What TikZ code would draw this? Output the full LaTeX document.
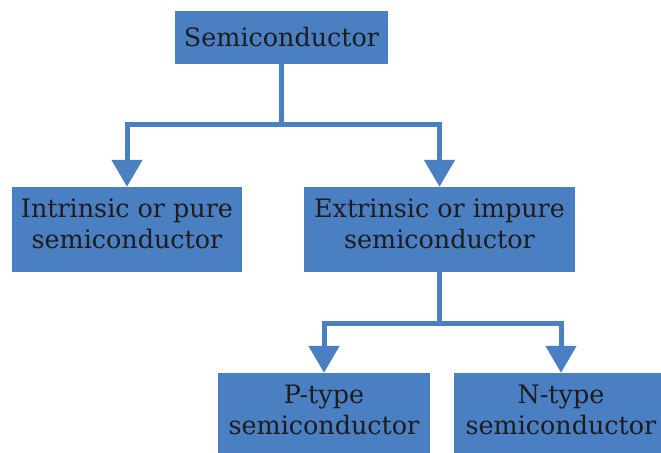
\documentclass[tikz,border=0pt]{standalone}
\usepackage{fontspec}
\setmainfont{DejaVu Serif}
\usetikzlibrary{arrows.meta}
\definecolor{boxblue}{RGB}{74,127,193}
\definecolor{txt}{RGB}{30,28,30}
\newcommand\mydstrut{\rule[-12bp]{0pt}{0pt}}
\tikzset{
  cbox/.style={fill=boxblue, draw=none, text=txt, align=center, inner sep=0pt,
    font=\fontsize{25.5}{31}\selectfont, minimum height=85bp},
  link/.style={draw=boxblue, line width=5bp},
  arr/.style={link, -{Triangle[width=30bp,length=27bp]}}
}
\begin{document}
\begin{tikzpicture}[x=1bp,y=-1bp]
\useasboundingbox (0,0) rectangle (661,453);
\clip (0,0) rectangle (661,453);
\node[cbox, minimum width=213bp, minimum height=53bp] (top) at (281.5,37.5) {Semiconductor};
\node[cbox, minimum width=230bp] (intr) at (127,229.5) {Intrinsic or pure\\semiconductor\mydstrut};
\node[cbox, minimum width=271bp] (extr) at (439.5,229.5) {Extrinsic or impure\\semiconductor\mydstrut};
\node[cbox, minimum width=212bp] (ptype) at (324,415.5) {P-type\\semiconductor\mydstrut};
\node[cbox, minimum width=214bp] (ntype) at (561,415.5) {N-type\\semiconductor\mydstrut};
\coordinate (j1) at (281.5,125);
\coordinate (j2) at (439.5,323);
\draw[link] (top.south) -- (j1);
\draw[arr] (j1) -| (intr.north);
\draw[arr] (j1) -| (extr.north);
\draw[link] (extr.south) -- (j2);
\draw[arr] (j2) -| (ptype.north);
\draw[arr] (j2) -| (ntype.north);
\end{tikzpicture}
\end{document}
